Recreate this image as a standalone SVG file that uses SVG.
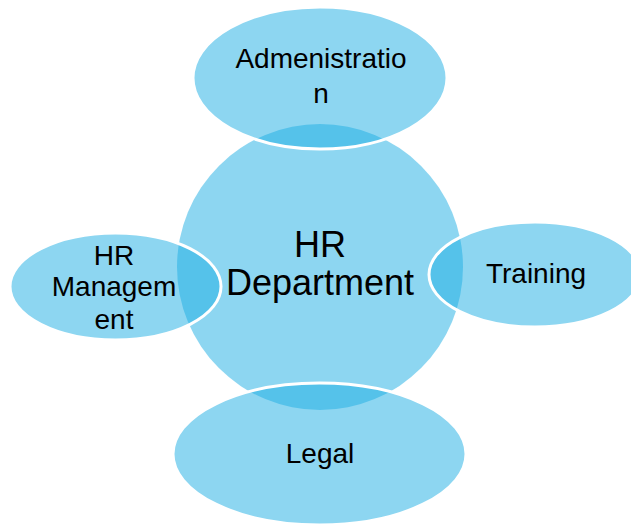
<svg xmlns="http://www.w3.org/2000/svg" width="631" height="525" viewBox="0 0 631 525">
  <style>
    .blob { fill: #1FAEE3; fill-opacity: 0.51; }
    .sat { stroke: #FFFFFF; stroke-width: 3; }
    .lbl { font-family: "Liberation Sans", Arial, sans-serif; font-size: 28px; fill: #000000; text-anchor: middle; }
    .big { font-size: 36px; }
  </style>
  <rect width="631" height="525" fill="#FFFFFF"/>
  <g id="hub">
    <circle class="blob" cx="320" cy="267" r="143"/>
  </g>
  <g id="connectors"/>
  <g id="administration">
    <ellipse class="blob sat" cx="320" cy="78" rx="127" ry="71"/>
  </g>
  <g id="hr-management">
    <ellipse class="blob sat" cx="115.5" cy="286.5" rx="105.5" ry="53.5"/>
  </g>
  <g id="training">
    <ellipse class="blob sat" cx="535" cy="274.5" rx="106" ry="52.5"/>
  </g>
  <g id="legal">
    <ellipse class="blob sat" cx="319.5" cy="454" rx="146.5" ry="71"/>
  </g>
  <g id="labels">
    <text class="lbl" x="321" y="68">Admenistratio</text>
    <text class="lbl" x="321" y="103">n</text>
    <text class="lbl big" x="320" y="257">HR</text>
    <text class="lbl big" x="320" y="295">Department</text>
    <text class="lbl" x="114" y="265">HR</text>
    <text class="lbl" x="114" y="296">Managem</text>
    <text class="lbl" x="114" y="329">ent</text>
    <text class="lbl" x="536" y="283">Training</text>
    <text class="lbl" x="320" y="463">Legal</text>
  </g>
</svg>
